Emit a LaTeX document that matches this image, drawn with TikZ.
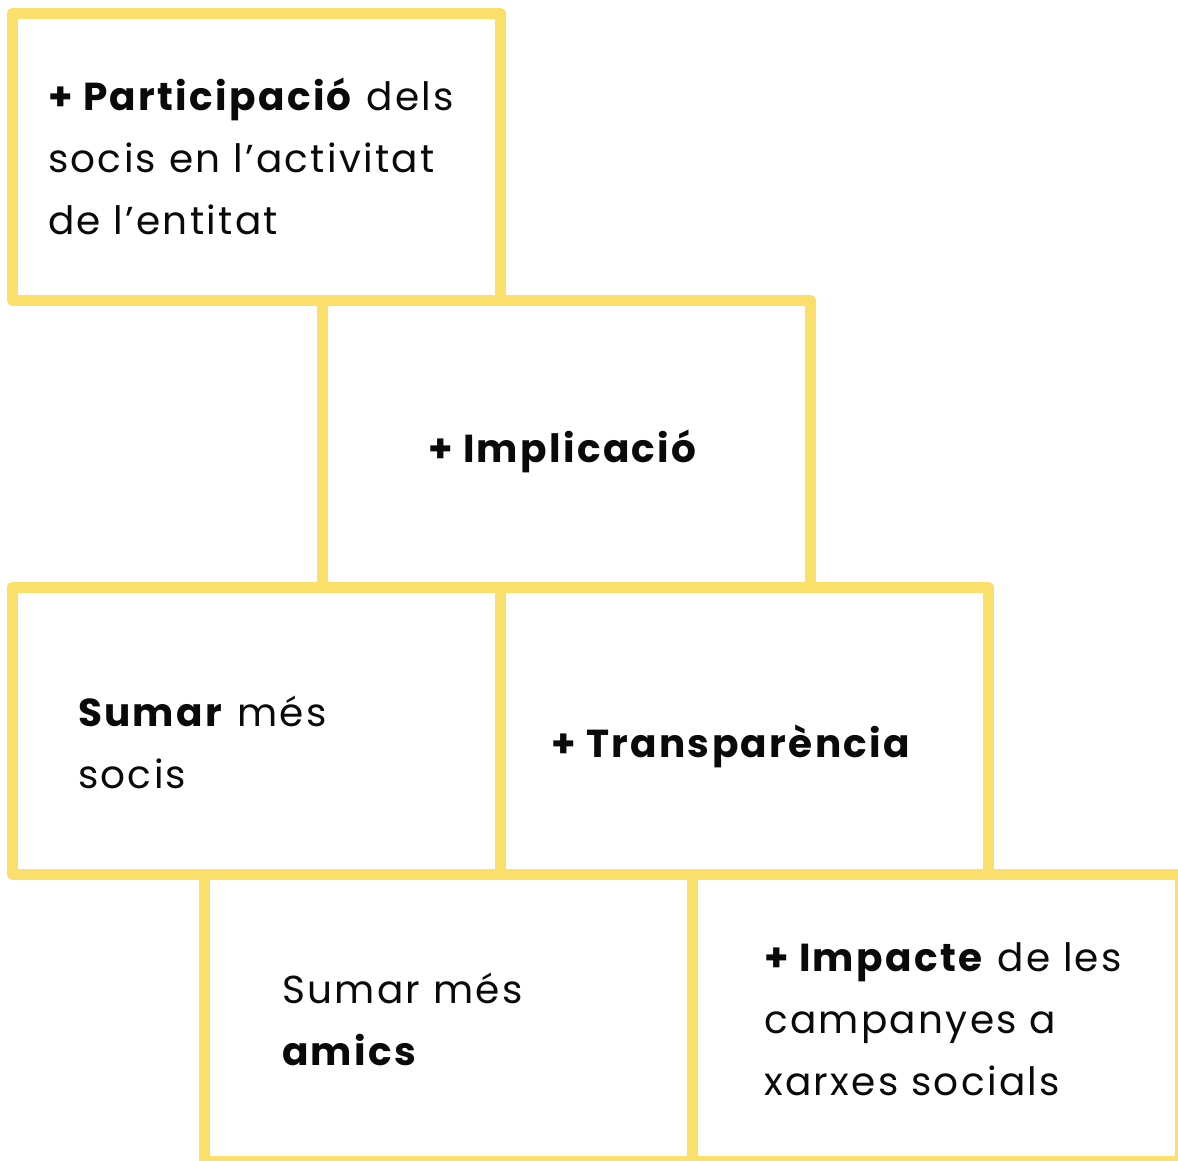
\documentclass[tikz,border=0pt]{standalone}
\usepackage{fontspec}
\setmainfont{Poppins}[LetterSpace=6]
\definecolor{boxyellow}{HTML}{FBDF6B}
\definecolor{ink}{HTML}{0A0A0A}
\begin{document}
\begin{tikzpicture}[x=1pt,y=-1pt,
  box/.style={draw=boxyellow, line width=11pt, line join=round,
    minimum width=488pt, minimum height=287pt, inner sep=0pt, outer sep=0pt,
    anchor=north west},
  txt/.style={anchor=base west, inner sep=0pt, outer sep=0pt, text=ink,
    font=\fontsize{39}{62}\selectfont}]
\useasboundingbox (0,0) rectangle (1178,1160);
\clip (0,0) rectangle (1178,1160);
\fill[white] (0,0) rectangle (1178,1160);
\node[box] (b1) at (12.5,13) {};
\node[box] (b2) at (322,300) {};
\node[box] (b3) at (12.5,587) {};
\node[box] (b4) at (500.5,587) {};
\node[box] (b5) at (204,874) {};
\node[box] (b6) at (692.5,874) {};
\node[txt] (t1) at (48,110) {\begin{tabular}[t]{@{}l@{}}\textbf{+ Participació} dels\\socis en l’activitat\\de l’entitat\end{tabular}};
\node[txt] (t2) at (428,462) {\textbf{+ Implicació}};
\node[txt] (t3) at (78,726) {\begin{tabular}[t]{@{}l@{}}\textbf{Sumar} més\\socis\end{tabular}};
\node[txt] (t4) at (551,757) {\textbf{+ Transparència}};
\node[txt] (t5) at (282,1003) {\begin{tabular}[t]{@{}l@{}}Sumar més\\\textbf{amics}\end{tabular}};
\node[txt] (t6) at (764,971) {\begin{tabular}[t]{@{}l@{}}\textbf{+ Impacte} de les\\campanyes a\\xarxes socials\end{tabular}};
\end{tikzpicture}
\end{document}
